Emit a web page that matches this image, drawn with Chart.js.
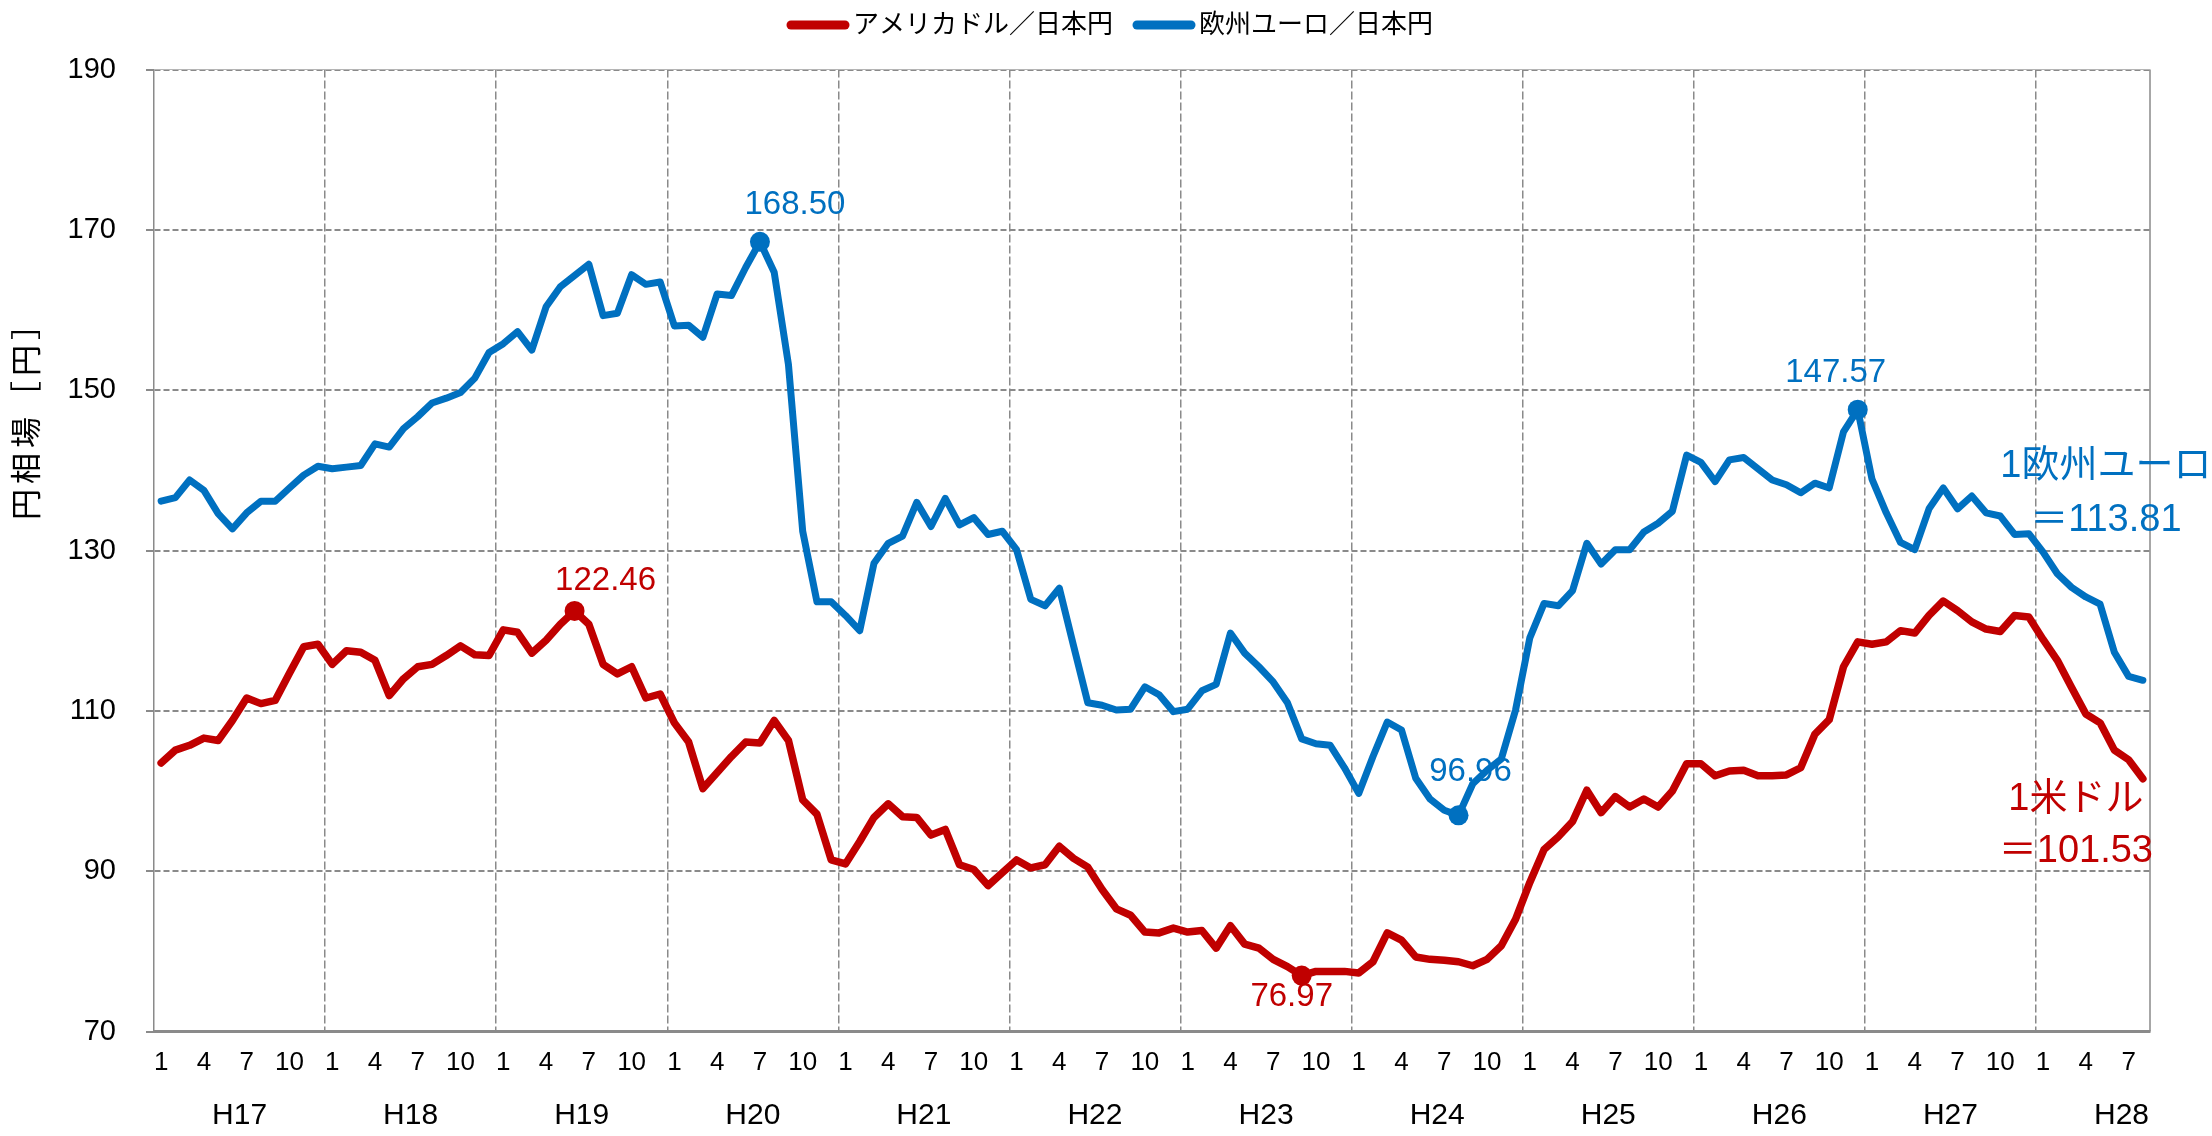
<!DOCTYPE html>
<html lang="ja">
<head>
<meta charset="utf-8">
<title>円相場の推移</title>
<script src="https://cdn.jsdelivr.net/npm/chart.js@4.4.1/dist/chart.umd.min.js"></script>
<style>
  html, body { margin: 0; padding: 0; background: #fff; }
  #wrap { width: 2212px; height: 1136px; position: relative; }
</style>
</head>
<body>
<div id="wrap"><canvas id="fxChart"></canvas></div>
<script>
// 年（和暦）と月
const years = ['H17', 'H18', 'H19', 'H20', 'H21', 'H22', 'H23', 'H24', 'H25', 'H26', 'H27', 'H28'];
const months = [1, 2, 3, 4, 5, 6, 7, 8, 9, 10, 11, 12];
const shownMonths = [1, 4, 7, 10];
const lastMonth = 8; // H28は8月まで

// アメリカドル／日本円（月平均）
const usdJpy = [
  103.5, 105.1, 105.7, 106.6, 106.3, 108.8, 111.6, 110.9, 111.3, 114.7, 118.0, 118.3,
  115.8, 117.5, 117.3, 116.3, 111.9, 114.0, 115.5, 115.8, 116.9, 118.1, 117.0, 116.9,
  120.1, 119.8, 117.2, 118.8, 120.8, 122.46, 120.8, 115.8, 114.6, 115.5, 111.6, 112.1,
  108.5, 106.1, 100.3, 102.3, 104.3, 106.1, 106.0, 108.8, 106.3, 98.9, 97.1, 91.4,
  90.9, 93.7, 96.7, 98.4, 96.8, 96.7, 94.5, 95.2, 90.8, 90.2, 88.2, 89.8,
  91.4, 90.4, 90.8, 93.1, 91.6, 90.5, 87.7, 85.3, 84.5, 82.4, 82.3, 82.9,
  82.4, 82.6, 80.4, 83.2, 80.9, 80.4, 79.0, 78.1, 76.97, 77.5, 77.5, 77.5,
  77.3, 78.7, 82.3, 81.4, 79.3, 79.0, 78.9, 78.7, 78.2, 79.0, 80.7, 84.0,
  88.6, 92.7, 94.3, 96.2, 100.1, 97.3, 99.3, 98.0, 99.0, 98.0, 100.0, 103.4,
  103.4, 101.9, 102.5, 102.6, 101.9, 101.9, 102.0, 102.9, 107.1, 108.9, 115.5, 118.6,
  118.3, 118.6, 120.0, 119.7, 121.9, 123.7, 122.5, 121.1, 120.2, 119.9, 121.9, 121.7,
  118.9, 116.3, 112.9, 109.6, 108.5, 105.1, 103.9, 101.53
];

// 欧州ユーロ／日本円（月平均）
const eurJpy = [
  136.15, 136.6, 138.8, 137.5, 134.6, 132.7, 134.7, 136.15, 136.15, 137.8, 139.4, 140.5,
  140.2, 140.4, 140.6, 143.3, 142.9, 145.2, 146.7, 148.4, 149.0, 149.7, 151.5, 154.7,
  155.8, 157.3, 155.0, 160.4, 162.9, 164.3, 165.7, 159.3, 159.6, 164.4, 163.2, 163.5,
  158.0, 158.1, 156.6, 162.0, 161.8, 165.3, 168.50, 164.7, 153.2, 132.4, 123.6, 123.6,
  121.9, 120.0, 128.4, 130.9, 131.8, 136.0, 133.0, 136.5, 133.2, 134.1, 132.0, 132.4,
  130.1, 123.9, 123.1, 125.3, 118.1, 111.0, 110.7, 110.1, 110.2, 113.0, 112.0, 109.9,
  110.2, 112.5, 113.3, 119.7, 117.2, 115.5, 113.6, 111.0, 106.5, 105.9, 105.7, 102.9,
  99.7, 104.3, 108.6, 107.6, 101.6, 99.0, 97.6, 96.96, 100.9, 102.6, 104.0, 110.1,
  119.1, 123.4, 123.1, 125.0, 130.9, 128.3, 130.1, 130.1, 132.3, 133.4, 134.9, 141.9,
  141.0, 138.6, 141.3, 141.6, 140.2, 138.8, 138.2, 137.2, 138.4, 137.8, 144.8, 147.57,
  138.9, 134.7, 131.0, 130.1, 135.2, 137.8, 135.2, 136.8, 134.7, 134.3, 132.0, 132.1,
  129.8, 127.1, 125.4, 124.2, 123.3, 117.3, 114.3, 113.81
];

// 値を表示する点（インデックス）
const usdMarks = [29, 80];
const eurMarks = [42, 91, 119];

const RED = '#C00000';
const BLUE = '#0070C0';
const GRID = '#8a8a8a';
const LATIN = '"Liberation Sans", Arial, "Noto Sans CJK JP", sans-serif';
const CJK = '"Noto Sans CJK JP", "Liberation Sans", sans-serif';

// ラベル：年ごとに1〜12月
const labels = [];
years.forEach((y, k) => {
  months.forEach(m => {
    if (k === years.length - 1 && m > lastMonth) return;
    labels.push(m);
  });
});

// 注記の位置（点からのずらし量）
const markLabelOffset = {
  0: { 29: [31, -30], 80: [-10, 21] },
  1: { 42: [35, -37], 91: [12, -43], 119: [-22, -37] }
};
const endLabels = [
  { ds: 0, lines: ['1米ドル', '＝' + usdJpy[usdJpy.length - 1].toFixed(2)], dx: -67, dy: [21, 73] },
  { ds: 1, lines: ['1欧州ユーロ', '＝' + eurJpy[eurJpy.length - 1].toFixed(2)], dx: -37, dy: [-214, -160] }
];

const overlayPlugin = {
  id: 'overlay',
  beforeDatasetsDraw(chart) {
    const { ctx, chartArea: a } = chart;
    ctx.save();
    // 右と上の枠線
    ctx.strokeStyle = GRID;
    ctx.lineWidth = 1.5;
    ctx.beginPath();
    ctx.moveTo(a.right, a.top);
    ctx.lineTo(a.right, a.bottom);
    ctx.stroke();
    ctx.strokeStyle = '#b5b5b5';
    ctx.lineWidth = 1;
    ctx.beginPath();
    ctx.moveTo(a.left, a.top);
    ctx.lineTo(a.right, a.top);
    ctx.stroke();
    ctx.restore();
  },
  afterDraw(chart) {
    const { ctx, scales: { x } } = chart;
    ctx.save();
    ctx.textAlign = 'center';
    ctx.textBaseline = 'middle';

    // 年ラベル
    const step = x.getPixelForValue(1) - x.getPixelForValue(0);
    ctx.fillStyle = '#000';
    ctx.font = `30px ${LATIN}`;
    years.forEach((y, k) => {
      const px = x.getPixelForValue(k * 12) + step * 5.5;
      ctx.fillText(y, px, 1116);
    });

    // 縦軸タイトル
    ctx.save();
    ctx.translate(25, 412);
    ctx.rotate(-Math.PI / 2);
    ctx.font = `31px ${CJK}`;
    ctx.letterSpacing = '5px';
    ctx.fillText('円相場［円］', 0, 0);
    ctx.restore();

    // 最高値・最安値の注記
    ctx.font = `33px ${LATIN}`;
    chart.data.datasets.forEach((ds, di) => {
      const meta = chart.getDatasetMeta(di);
      ctx.fillStyle = ds.borderColor;
      Object.keys(markLabelOffset[di]).forEach(key => {
        const i = Number(key);
        const pt = meta.data[i];
        const [dx, dy] = markLabelOffset[di][key];
        ctx.fillText(ds.data[i].toFixed(2), pt.x + dx, pt.y + dy);
      });
    });

    // 右端の注記
    ctx.font = `38px ${LATIN}`;
    endLabels.forEach(lab => {
      const ds = chart.data.datasets[lab.ds];
      const meta = chart.getDatasetMeta(lab.ds);
      const pt = meta.data[meta.data.length - 1];
      ctx.fillStyle = ds.borderColor;
      lab.lines.forEach((t, j) => ctx.fillText(t, pt.x + lab.dx, pt.y + lab.dy[j]));
    });

    // 凡例
    ctx.font = `26px ${CJK}`;
    ctx.textAlign = 'left';
    const lineLen = 62, gap = 4, itemGap = 20;
    const items = chart.data.datasets.map(d => ({ label: d.label, color: d.borderColor, w: ctx.measureText(d.label).width }));
    const total = items.reduce((s, it) => s + lineLen + gap + it.w, 0) + itemGap * (items.length - 1);
    let lx = chart.width / 2 + 4 - total / 2;
    const ly = 23;
    items.forEach(it => {
      ctx.strokeStyle = it.color;
      ctx.lineWidth = 9;
      ctx.lineCap = 'round';
      ctx.beginPath();
      ctx.moveTo(lx + 4, ly + 2);
      ctx.lineTo(lx + lineLen - 4, ly + 2);
      ctx.stroke();
      ctx.fillStyle = '#000';
      ctx.fillText(it.label, lx + lineLen + gap, ly);
      lx += lineLen + gap + it.w + itemGap;
    });
    ctx.restore();
  }
};

const markRadius = marks => c => (marks.includes(c.dataIndex) ? 10 : 0);

new Chart(document.getElementById('fxChart'), {
  type: 'line',
  data: {
    labels: labels,
    datasets: [{
      label: 'アメリカドル／日本円',
      data: usdJpy,
      borderColor: RED,
      backgroundColor: RED,
      borderWidth: 7.5,
      borderJoinStyle: 'round',
      borderCapStyle: 'round',
      tension: 0,
      pointRadius: markRadius(usdMarks),
      pointHoverRadius: markRadius(usdMarks),
      pointBackgroundColor: RED,
      pointBorderWidth: 0
    }, {
      label: '欧州ユーロ／日本円',
      data: eurJpy,
      borderColor: BLUE,
      backgroundColor: BLUE,
      borderWidth: 7,
      borderJoinStyle: 'round',
      borderCapStyle: 'round',
      tension: 0,
      pointRadius: markRadius(eurMarks),
      pointHoverRadius: markRadius(eurMarks),
      pointBackgroundColor: BLUE,
      pointBorderWidth: 0
    }]
  },
  options: {
    responsive: true,
    maintainAspectRatio: false,
    animation: false,
    events: [],
    layout: { padding: { top: 69.5, right: 62, bottom: 0, left: 0 } },
    plugins: {
      legend: { display: false },
      tooltip: { enabled: false }
    },
    scales: {
      x: {
        type: 'category',
        offset: true,
        grid: {
          offset: true,
          drawTicks: false,
          lineWidth: 1.5,
          color: c => (c.index > 0 && c.index % 12 === 0 ? GRID : 'rgba(0,0,0,0)')
        },
        border: { display: true, color: GRID, width: 3, dash: [8, 3] },
        ticks: {
          autoSkip: false,
          maxRotation: 0,
          minRotation: 0,
          padding: 16,
          color: '#000',
          font: { family: LATIN, size: 26 },
          callback: function (value) {
            const m = this.getLabelForValue(value);
            return shownMonths.includes(m) ? String(m) : '';
          }
        },
        afterFit: scale => { scale.height = 104.5; }
      },
      y: {
        min: 70,
        max: 190,
        ticks: {
          stepSize: 20,
          padding: 30,
          color: '#000',
          font: { family: LATIN, size: 29 }
        },
        grid: {
          lineWidth: 2,
          tickLength: 8,
          tickColor: GRID,
          color: c => (c.tick && c.tick.value === 70 ? 'rgba(0,0,0,0)' : GRID)
        },
        border: { display: true, color: GRID, width: 1.5, dash: [6, 3] },
        afterFit: scale => { scale.width = 154; }
      }
    }
  },
  plugins: [overlayPlugin]
});
</script>
</body>
</html>
